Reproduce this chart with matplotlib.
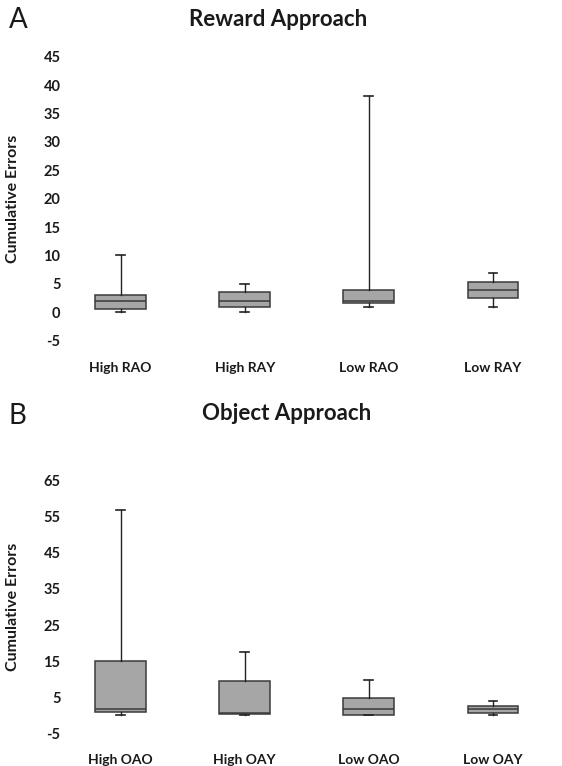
import matplotlib
matplotlib.use("Agg")
import matplotlib.pyplot as plt

plt.rcParams['font.family'] = ['Lato', 'DejaVu Sans']

# panel A - reward approach
reward_labels = ["High RAO", "High RAY", "Low RAO", "Low RAY"]
reward_min = [0, 0, 1, 1]
reward_q1 = [0.5, 1, 1.7, 2.5]
reward_med = [2, 2, 2, 4]
reward_q3 = [3, 3.5, 4, 5.4]
reward_max = [10, 5, 38, 7]

# panel B - object approach
object_labels = ["High OAO", "High OAY", "Low OAO", "Low OAY"]
object_min = [0, 0, 0, 0]
object_q1 = [1, 0.3, 0, 0.7]
object_med = [1.6, 0.6, 1.7, 1.75]
object_q3 = [15, 9.4, 4.9, 2.7]
object_max = [57, 17.6, 9.8, 3.9]


def make_stats(labels, lo, q1, med, q3, hi):
    stats = []
    for i in range(len(labels)):
        stats.append({"label": labels[i], "whislo": lo[i], "q1": q1[i],
                      "med": med[i], "q3": q3[i], "whishi": hi[i], "fliers": []})
    return stats


def draw_panel(ax, stats, yticks):
    ax.bxp(stats, positions=[1, 2, 3, 4], widths=0.41, capwidths=0.07,
           showfliers=False, patch_artist=True,
           boxprops=dict(facecolor="#a6a6a6", edgecolor="#3a3a3a", linewidth=1.1),
           medianprops=dict(color="#3a3a3a", linewidth=1.1),
           whiskerprops=dict(color="#222222", linewidth=1.0),
           capprops=dict(color="#222222", linewidth=1.2))
    ax.set_xlim(0.56, 4.5)
    ax.set_ylim(yticks[0], yticks[-1])
    ax.set_yticks(yticks)
    ax.set_yticklabels([str(t) for t in yticks])
    for s in ax.spines.values():
        s.set_visible(False)
    ax.tick_params(length=0, labelsize=10)
    ax.tick_params(axis="y", pad=4, labelsize=10.5)
    ax.tick_params(axis="x", pad=15)
    for lab in ax.get_xticklabels() + ax.get_yticklabels():
        lab.set_fontweight("bold")
        lab.set_color("#1a1a1a")
    ax.set_ylabel("Cumulative Errors", fontsize=11.5, fontweight="bold", color="#1a1a1a")
    ax.yaxis.set_label_coords(-0.094, 0.5)


fig = plt.figure(figsize=(5.62, 7.66), dpi=100)

ax1 = fig.add_axes([66 / 562, 1 - 340.7 / 766, 489 / 562, 284 / 766])
draw_panel(ax1, make_stats(reward_labels, reward_min, reward_q1, reward_med,
                           reward_q3, reward_max), [-5, 0, 5, 10, 15, 20, 25, 30, 35, 40, 45])

ax2 = fig.add_axes([66 / 562, 1 - 733.3 / 766, 489 / 562, 252.6 / 766])
draw_panel(ax2, make_stats(object_labels, object_min, object_q1, object_med,
                           object_q3, object_max), [-5, 5, 15, 25, 35, 45, 55, 65])

fig.text(278 / 562, 1 - 20 / 766, "Reward Approach", ha="center", va="center",
         fontsize=16, fontweight="bold", color="#1a1a1a")
fig.text(287 / 562, 1 - 413 / 766, "Object Approach", ha="center", va="center",
         fontsize=16, fontweight="bold", color="#1a1a1a")
fig.text(18 / 562, 1 - 20 / 766, "A", ha="center", va="center", fontsize=20, color="#1a1a1a")
fig.text(17 / 562, 1 - 416 / 766, "B", ha="center", va="center", fontsize=20, color="#1a1a1a")

fig.savefig("out.png", dpi=100)
